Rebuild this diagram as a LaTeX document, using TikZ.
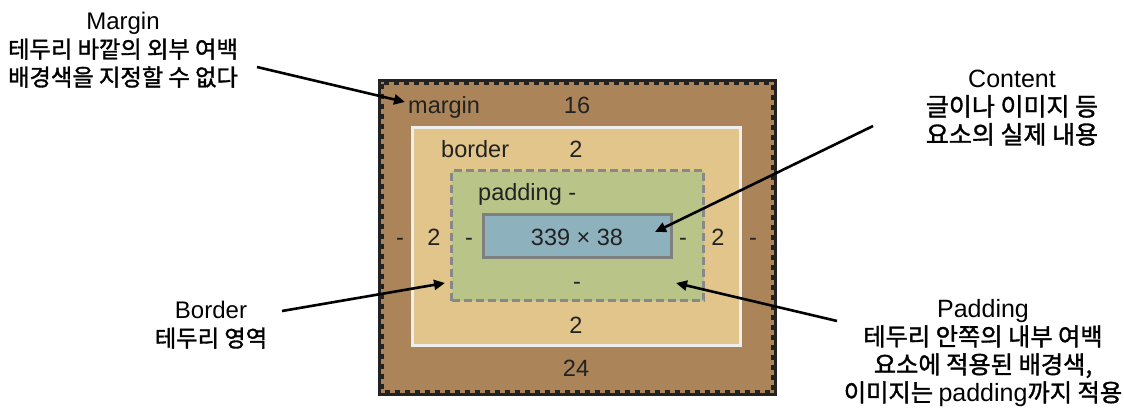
\documentclass[tikz,border=0pt]{standalone}
\usepackage{fontspec}
\setmainfont{Liberation Sans}
\newfontfamily\kr[Scale=0.97, FakeBold=1.4]{Noto Sans CJK KR}
\newfontfamily\krb[FakeBold=1.4]{Noto Sans CJK KR}
\usetikzlibrary{arrows.meta}
\definecolor{mbrown}{HTML}{AB8459}
\definecolor{btan}{HTML}{E1C58B}
\definecolor{pgreen}{HTML}{B9C588}
\definecolor{cblue}{HTML}{8EB1BE}
\definecolor{ink}{HTML}{222222}
\definecolor{bline}{HTML}{EEEEEE}
\definecolor{pline}{HTML}{888888}
\definecolor{cline}{HTML}{7F7F7F}
\begin{document}
\begin{tikzpicture}[x=1pt,y=-1pt,
 lbl/.style={font=\fontsize{23.5}{27}\selectfont, text=ink, inner sep=0pt},
 note/.style={font=\fontsize{24}{28}\selectfont, align=center, inner sep=0pt, text=black},
 ptr/.style={line width=2.6pt, -{Triangle[length=11pt,width=10pt]}, black},
 box/.style={inner sep=0pt, outer sep=0pt, anchor=center, line width=3pt}
]
\useasboundingbox[fill=white] (0,0) rectangle (1124,420);

% boxes
\node[box, draw=ink, fill=mbrown, minimum width=396pt, minimum height=314pt] (mbox) at (577.5,237.5) {};
\draw[ink, line width=3pt, dash pattern=on 5pt off 5pt] ([xshift=3pt,yshift=-3pt]mbox.north west) rectangle ([xshift=-3pt,yshift=3pt]mbox.south east);
\node[box, draw=bline, fill=btan, minimum width=328pt, minimum height=218pt] (bbox) at (576.5,236.5) {};
\node[box, draw=pline, dash pattern=on 8pt off 4pt, fill=pgreen, minimum width=252pt, minimum height=130pt] (pbox) at (577.5,235.5) {};
\node[box, draw=cline, fill=cblue, minimum width=188pt, minimum height=43pt] (cbox) at (577.5,236) {};

% box labels
\node[lbl, anchor=base west] (tmargin) at (408,113) {margin};
\node[lbl, anchor=base] (t16) at (577,113) {16};
\node[lbl, anchor=base west] (tborder) at (441,157) {border};
\node[lbl, anchor=base] (tbtop) at (576,157) {2};
\node[lbl, anchor=base west] (tpad) at (478,200) {padding -};
\node[lbl, anchor=base] (tsize) at (577,245) {339 × 38};
\node[lbl, anchor=base] (tml) at (400,245) {-};
\node[lbl, anchor=base] (tbl) at (434,245) {2};
\node[lbl, anchor=base] (tpl) at (469,245) {-};
\node[lbl, anchor=base] (tpr) at (683,245) {-};
\node[lbl, anchor=base] (tbr) at (718,245) {2};
\node[lbl, anchor=base] (tmr) at (753,245) {-};
\node[lbl, anchor=base] (tpb) at (577,289) {-};
\node[lbl, anchor=base] (tbb) at (576,333) {2};
\node[lbl, anchor=base] (tmb) at (576,376) {24};

% annotations
\node[note] (nmargin) at (123,50) {Margin\\{\kr 테두리 바깥의 외부 여백}\\{\kr 배경색을 지정할 수 없다}};
\node[note, font=\fontsize{25}{28}\selectfont] (ncontent) at (1012,108) {Content\\{\krb 글이나 이미지 등}\\{\krb 요소의 실제 내용}};
\node[note] (nborder) at (211,325) {Border\\{\kr 테두리 영역}};
\node[note, font=\fontsize{25}{28}\selectfont] (npadding) at (983,353) {Padding\\{\kr 테두리 안쪽의 내부 여백}\\{\kr 요소에 적용된 배경색,}\\{\kr 이미지는 }padding{\kr 까지 적용}};

% arrows
\coordinate (ma1) at (257,67);  \coordinate (ma2) at (405,102);
\coordinate (ca1) at (873,126); \coordinate (ca2) at (655,232);
\coordinate (ba1) at (282,311); \coordinate (ba2) at (445,283);
\coordinate (pa1) at (837,321); \coordinate (pa2) at (676,283);
\draw[ptr] (ma1) -- (ma2);
\draw[ptr] (ca1) -- (ca2);
\draw[ptr] (ba1) -- (ba2);
\draw[ptr] (pa1) -- (pa2);
\end{tikzpicture}
\end{document}
